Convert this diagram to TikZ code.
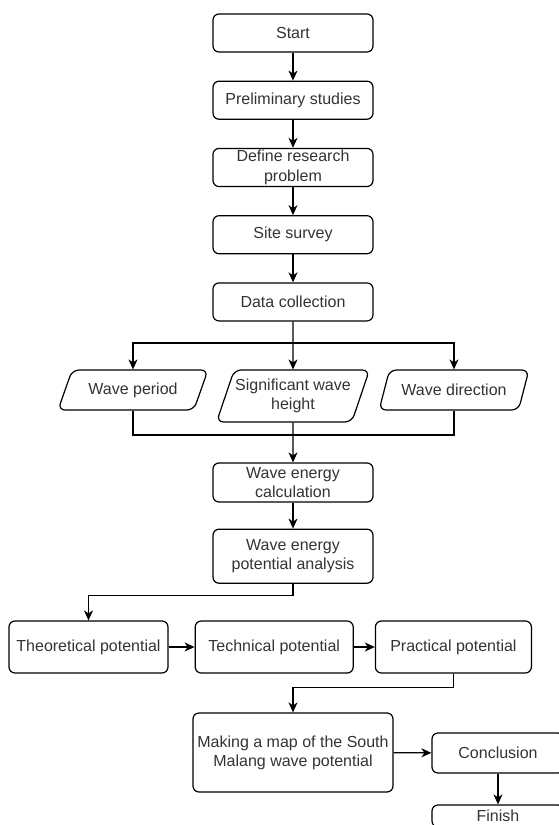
\documentclass[tikz,border=0pt]{standalone}
\usepackage{fontspec}
\setmainfont{Liberation Sans}
\usetikzlibrary{positioning,shapes.geometric,arrows.meta}

\tikzset{
	box/.style={draw,rounded corners=6pt,line width=1.2pt,align=center,inner sep=2pt,
		minimum width=160pt,minimum height=38pt,text=black!80},
	io/.style={draw,trapezium,trapezium left angle=58,trapezium right angle=122,
		trapezium stretches=true,rounded corners=7pt,line width=1.2pt,align=center,
		inner sep=1pt,minimum width=150pt,minimum height=40pt,text=black!80},
	line/.style={line width=1.2pt}
}

\begin{document}
\begin{tikzpicture}[x=1pt,y=-1pt,>={Stealth[length=10pt,width=9pt,inset=3pt]},
	font=\fontsize{16}{19.2}\selectfont,node distance=28pt]
	\useasboundingbox (0,0) rectangle (559,825);
	\clip (0,0) rectangle (559,825);

	% main column
	\node[box] 		(start) at (293,33) {Start};
	\node[box] 		(prelim) [below=of start] {Preliminary studies};
	\node[box] 		(define) [below=of prelim] {Define research\\problem};
	\node[box] 		(survey) [below=of define] {Site survey};
	\node[box] 		(data) [below=of survey] {Data collection};

	% inputs
	\node[io] 		(period) at (133,390) {Wave period};
	\node[io,minimum height=52pt,trapezium left angle=64,trapezium right angle=116]
				(height) at (293,396) {Significant wave\\height};
	\node[io] 		(direction) at (454,390) {Wave direction};
	\coordinate (split) at (293,343);
	\coordinate (join) at (293,435);

	\node[box,minimum height=39pt] 	(calc) at (293,482.5) {Wave energy\\calculation};
	\node[box,minimum height=54pt] 	(analysis) [below=26pt of calc] {Wave energy\\potential analysis};

	% potentials
	\node[box,minimum width=159pt,minimum height=52pt] 	(theo) at (88.5,647) {Theoretical potential};
	\node[box,minimum width=158pt,minimum height=52pt] 	(tech) [right=26pt of theo] {Technical potential};
	\node[box,minimum width=156pt,minimum height=52pt] 	(prac) [right=21pt of tech] {Practical potential};

	\node[box,minimum width=200pt,minimum height=79pt] 	(map) at (293,752.5) {Making a map of the South\\Malang wave potential};
	\node[box,minimum width=132pt,minimum height=40pt] 	(concl) at (498,753) {Conclusion};
	\node[box,minimum width=132pt,minimum height=22pt] 	(finish) at (498,816) {Finish};

	\draw[line,->] (start) -- (prelim);
	\draw[line,->] (prelim) -- (define);
	\draw[line,->] (define) -- (survey);
	\draw[line,->] (survey) -- (data);
	\draw[line,->] (data) -- (height);
	\draw[line,->] (split) -| (period);
	\draw[line,->] (split) -| (direction);
	\draw[line] (period) |- (join) -| (direction);
	\draw[line,->] (height) -- (calc);
	\draw[line,->] (calc) -- (analysis);
	\draw[line,->] (analysis.south) -- ++(0,12) -| (theo);
	\draw[line,->] (theo) -- (tech);
	\draw[line,->] (tech) -- (prac);
	\draw[line,->] (prac.south) -- ++(0,14) -| (map);
	\draw[line,->] (map) -- (concl);
	\draw[line,->] (concl) -- (finish);
\end{tikzpicture}
\end{document}
